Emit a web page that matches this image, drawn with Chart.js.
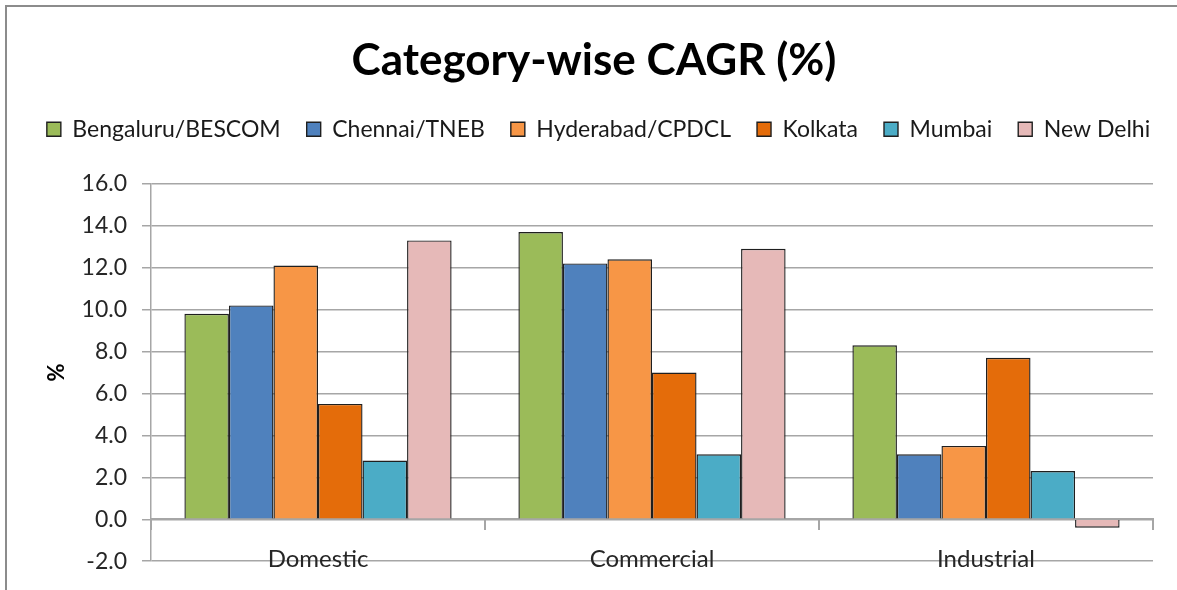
<!DOCTYPE html>
<html>
<head>
<meta charset="utf-8">
<script src="https://cdn.jsdelivr.net/npm/chart.js@4/dist/chart.umd.min.js"></script>
<style>
  html, body { margin: 0; padding: 0; background: #fff; overflow: hidden; }
  #wrap { position: relative; width: 1177px; height: 590px; }
  #frame { position: absolute; left: 5px; top: 5px; width: 1220px; height: 640px; border: 2px solid #8c8c8c; }
  canvas { position: absolute; left: 0; top: 0; }
</style>
</head>
<body>
<div id="wrap">
  <div id="frame"></div>
  <canvas id="cagrChart" width="1177" height="590"></canvas>
</div>
<script>
// Categories and series (CAGR %)
const categories = ["Domestic", "Commercial", "Industrial"];
const bengaluru = [9.8, 13.7, 8.3];
const chennai = [10.2, 12.2, 3.1];
const hyderabad = [12.1, 12.4, 3.5];
const kolkata = [5.5, 7.0, 7.7];
const mumbai = [2.8, 3.1, 2.3];
const newDelhi = [13.3, 12.9, -0.4];

const seriesNames = ["Bengaluru/BESCOM", "Chennai/TNEB", "Hyderabad/CPDCL", "Kolkata", "Mumbai", "New Delhi"];
const seriesData = [bengaluru, chennai, hyderabad, kolkata, mumbai, newDelhi];
const seriesColors = ["#9bbb59", "#4f81bd", "#f79646", "#e46c0a", "#4bacc6", "#e6b9b8"];

const yMin = -2, yMax = 16, yStep = 2;

const fontFamily = "Lato, 'Open Sans', sans-serif";
const gridGray = "#a6a6a6";

const datasets = seriesNames.map((name, i) => ({
  label: name,
  data: seriesData[i],
  backgroundColor: seriesColors[i],
  borderColor: "#1f1f1f",
  borderWidth: 1.4,
  categoryPercentage: 0.8,
  barPercentage: 1.0
}));

// keep the legend on one row, a bit wider than the plot, with room underneath
const legendSpace = {
  id: "legendSpace",
  beforeInit(chart) {
    const fit = chart.legend.fit;
    chart.legend.fit = function () {
      this.maxWidth = 2000;
      fit.call(this);
      this.height = 92;
    };
  },
  afterLayout(chart) {
    const lg = chart.legend;
    lg.left = 10;
    lg.right = 1187;
    lg.width = lg.right - lg.left;
  }
};

new Chart(document.getElementById("cagrChart").getContext("2d"), {
  type: "bar",
  data: { labels: categories, datasets: datasets },
  plugins: [legendSpace],
  options: {
    responsive: false,
    animation: false,
    layout: { padding: { left: 35, right: 24, top: 6, bottom: 26 } },
    plugins: {
      title: {
        display: true,
        text: "Category-wise CAGR (%)",
        color: "#000",
        font: { family: fontFamily, size: 44, weight: "bold" },
        padding: { top: 28, bottom: 5 }
      },
      legend: {
        position: "top",
        labels: {
          boxWidth: 14,
          boxHeight: 14,
          padding: 26,
          color: "#1a1a1a",
          font: { family: fontFamily, size: 23 }
        }
      },
      tooltip: { enabled: false }
    },
    scales: {
      x: {
        position: { y: 0 },
        grid: { offset: true, drawOnChartArea: false, drawTicks: true, tickLength: 10, color: gridGray, lineWidth: 2 },
        border: { color: gridGray, width: 2 },
        ticks: { padding: 16, color: "#262626", font: { family: fontFamily, size: 24 } }
      },
      y: {
        min: yMin,
        max: yMax,
        afterFit: (scale) => { scale.width = 116; },
        ticks: {
          stepSize: yStep,
          padding: 15,
          color: "#262626",
          font: { family: fontFamily, size: 23 },
          callback: (v) => Number(v).toFixed(1)
        },
        grid: { color: gridGray, lineWidth: 1.5, drawTicks: true, tickLength: 9 },
        border: { color: gridGray, width: 1.5 },
        title: {
          display: true,
          text: "%",
          color: "#000",
          font: { family: fontFamily, size: 22, weight: "bold" },
          padding: { top: 9, bottom: 0 }
        }
      }
    }
  }
});
</script>
</body>
</html>
